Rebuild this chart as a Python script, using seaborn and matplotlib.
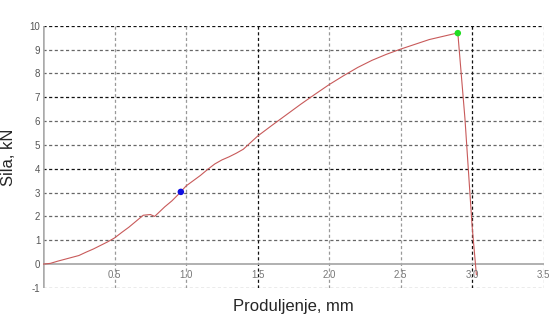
import numpy as np
import pandas as pd
import matplotlib
matplotlib.use("Agg")
import matplotlib.pyplot as plt
import seaborn as sns

# force-elongation curve
elong = [0.0, 0.05, 0.1, 0.15, 0.2, 0.25, 0.3, 0.35, 0.4, 0.45, 0.5, 0.55, 0.6,
         0.65, 0.7, 0.75, 0.78, 0.85, 0.9, 0.95, 1.0, 1.05, 1.1, 1.15, 1.2,
         1.25, 1.3, 1.35, 1.4, 1.5, 1.6, 1.7, 1.8, 1.9, 2.0, 2.1, 2.2, 2.3,
         2.4, 2.5, 2.6, 2.7, 2.8, 2.9, 2.95, 3.0, 3.03]
force = [0.0, 0.03, 0.12, 0.2, 0.28, 0.36, 0.5, 0.63, 0.78, 0.93, 1.1, 1.33, 1.55,
         1.8, 2.05, 2.08, 2.0, 2.4, 2.65, 2.95, 3.28, 3.5, 3.72, 3.97, 4.2,
         4.37, 4.5, 4.65, 4.82, 5.37, 5.82, 6.26, 6.7, 7.12, 7.53, 7.9, 8.25, 8.55,
         8.8, 9.02, 9.22, 9.42, 9.56, 9.7, 6.1, 1.6, -0.45]
marker_x = [0.963, 2.90]
marker_y = [3.03, 9.69]
marker_colors = ["#1010e0", "#22dd22"]

x_ticks = [0.5, 1.0, 1.5, 2.0, 2.5, 3.0, 3.5]
x_labels = ["0.5", "1.0", "1.5", "2.0", "2.5", "3.0", "3.5"]
y_ticks = list(range(-1, 11))
dark_x = [1.5, 3.0]
dark_y = [10, 7, 4]

df = pd.DataFrame({"x": elong, "y": force})

sns.set_style("white")
plt.rcParams["font.family"] = ["Liberation Sans", "DejaVu Sans"]

fig = plt.figure(figsize=(5.53, 3.14), dpi=100)
ax = fig.add_axes([0.078, 0.083, 0.905, 0.835])

# grid lines
for yv in y_ticks:
    if yv == 0:
        continue
    c = "#111111" if yv in dark_y else "#666666"
    ax.axhline(yv, color=c, lw=0.9, ls=(0, (2.5, 2)), zorder=1)
for xv in x_ticks:
    c = "#111111" if xv in dark_x else "#999999"
    ax.axvline(xv, color=c, lw=0.9, ls=(0, (2.5, 2)), zorder=1)

ax.axhline(0, color="#aaaaaa", lw=1.3, zorder=2)
ax.axvline(0, color="#aaaaaa", lw=1.8, zorder=2)

sns.lineplot(data=df, x="x", y="y", sort=False, estimator=None,
             color="#c85a5a", lw=0.8, ax=ax, zorder=3)
for mx, my, mc in zip(marker_x, marker_y, marker_colors):
    ax.scatter([mx], [my], color=mc, s=22, zorder=4, edgecolors="none")

ax.set_xlim(0, 3.5)
ax.set_ylim(-1, 10)
for s in ax.spines.values():
    s.set_visible(False)

ax.set_xticks([])
ax.set_yticks(y_ticks)
ax.set_yticklabels([str(v) for v in y_ticks], fontsize=7, color="#555555")
ax.tick_params(axis="y", length=0, pad=2)
for xv, lab in zip(x_ticks, x_labels):
    ax.text(xv, -0.25, lab, ha="center", va="top", fontsize=7, color="#777777")

ax.set_xlabel("Produljenje, mm", fontsize=12, labelpad=8)
ax.set_ylabel("Sila, kN", fontsize=12, labelpad=10)

fig.savefig("out.png", dpi=100)
